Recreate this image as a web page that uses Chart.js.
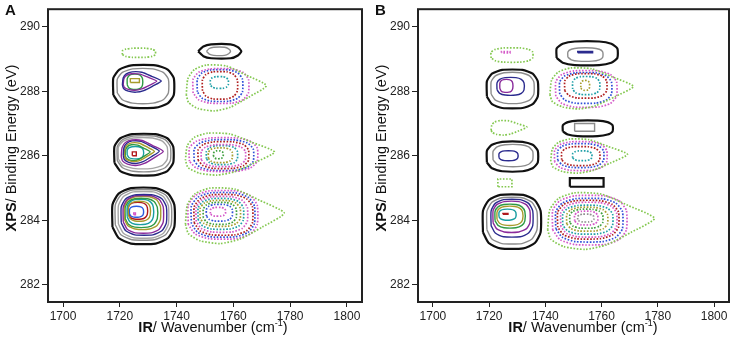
<!DOCTYPE html>
<html>
<head>
<meta charset="utf-8" />
<title>2D IR / XPS correlation</title>
<script src="https://cdn.jsdelivr.net/npm/chart.js"></script>
<style>
    body { margin: 0; padding: 0; background: #fff; }
    #wrap { position: relative; width: 737px; height: 339px; }
    canvas { position: absolute; top: 0; }
    #chartA { left: 0; }
    #chartB { left: 370px; }
</style>
</head>
<body>
<div id="wrap">
    <canvas id="chartA" width="368" height="339"></canvas>
    <canvas id="chartB" width="367" height="339"></canvas>
</div>
<script>
// axis ticks
var xTicks = [1700, 1720, 1740, 1760, 1780, 1800];
var yTicks = [282, 284, 286, 288, 290];

// contours: [level, xLeft, xRight, yBottom, yTop, outline]
// positive levels = solid lines, negative levels = dotted lines
var contoursA = [
    [-1, 1720.9, 1732.5, 289.05, 289.33, 'o'],
    [1, 1747.6, 1762.8, 289.02, 289.45, 'l'],
    [2, 1750.5, 1759.0, 289.11, 289.36, 'l'],
    // ~288.3 eV
    [1, 1717.7, 1739.0, 287.49, 288.80, 'o'],
    [2, 1719.1, 1737.1, 287.63, 288.69, 'o'],
    [4, 1720.9, 1734.6, 287.97, 288.60, 't'],
    [5, 1721.2, 1733.0, 288.03, 288.54, 't'],
    [7, 1722.6, 1728.0, 288.06, 288.52, 'o'],
    [6, 1723.7, 1726.9, 288.27, 288.39, 'r'],
    [-1, 1743.4, 1771.6, 287.39, 288.81, 't'],
    [-2, 1745.8, 1765.3, 287.63, 288.69, 'o'],
    [-3, 1747.3, 1763.2, 287.69, 288.66, 'o'],
    [-4, 1749.1, 1761.4, 287.76, 288.60, 'o'],
    [-6, 1751.9, 1758.2, 288.09, 288.45, 'o'],
    // ~286 eV
    [1, 1718.1, 1738.8, 285.40, 286.67, 'o'],
    [2, 1719.1, 1737.8, 285.52, 286.61, 'o'],
    [3, 1719.5, 1736.7, 285.61, 286.55, 'o'],
    [5, 1720.5, 1735.3, 285.70, 286.49, 't'],
    [4, 1721.2, 1733.9, 285.76, 286.46, 't'],
    [6, 1721.6, 1732.2, 285.82, 286.40, 't'],
    [7, 1721.9, 1730.7, 285.85, 286.34, 't'],
    [8, 1722.6, 1728.3, 285.91, 286.28, 'o'],
    [10, 1724.4, 1725.8, 286.00, 286.12, 'r'],
    [-1, 1743.1, 1774.5, 285.40, 286.70, 't'],
    [-2, 1744.5, 1768.4, 285.52, 286.55, 'o'],
    [-3, 1746.2, 1767.0, 285.55, 286.49, 'o'],
    [-4, 1747.6, 1765.3, 285.61, 286.43, 'o'],
    [-5, 1748.7, 1764.2, 285.67, 286.34, 'o'],
    [-6, 1750.5, 1761.4, 285.73, 286.31, 'o'],
    [-7, 1751.2, 1759.6, 285.79, 286.24, 'o'],
    [-8, 1753.0, 1756.4, 285.91, 286.15, 'o'],
    // ~284.2 eV
    [1, 1717.4, 1739.2, 283.28, 285.00, 'o'],
    [2, 1718.4, 1738.1, 283.40, 284.94, 'o'],
    [3, 1719.5, 1737.1, 283.46, 284.88, 'o'],
    [4, 1720.5, 1736.4, 283.55, 284.79, 'o'],
    [5, 1721.2, 1735.3, 283.61, 284.76, 'o'],
    [6, 1721.6, 1734.3, 283.73, 284.73, 'o'],
    [7, 1721.9, 1733.2, 283.79, 284.67, 'o'],
    [8, 1722.6, 1731.8, 283.88, 284.64, 'o'],
    [9, 1723.0, 1730.7, 283.98, 284.58, 'o'],
    [10, 1723.0, 1729.7, 284.04, 284.55, 'o'],
    [11, 1723.4, 1728.3, 284.10, 284.43, 'o'],
    [12, 1724.9, 1725.5, 284.17, 284.23, 'r'],
    [-1, 1743.1, 1777.9, 283.28, 285.00, 't'],
    [-2, 1744.1, 1768.4, 283.43, 284.91, 'o'],
    [-3, 1745.2, 1767.4, 283.49, 284.85, 'o'],
    [-4, 1746.2, 1766.7, 283.55, 284.79, 'o'],
    [-5, 1746.9, 1764.9, 283.64, 284.73, 'o'],
    [-6, 1747.6, 1763.5, 283.73, 284.67, 'o'],
    [-7, 1748.3, 1762.4, 283.82, 284.61, 'o'],
    [-8, 1749.4, 1761.0, 283.88, 284.55, 'o'],
    [-9, 1750.5, 1759.6, 283.98, 284.49, 'o'],
    [-10, 1751.9, 1757.2, 284.13, 284.40, 'o']
];

var contoursB = [
    [-1, 1720.7, 1735.5, 288.90, 289.34, 'o'],
    [-2, 1724.4, 1727.4, 289.19, 289.23, 'r'],
    [1, 1744.0, 1765.6, 288.81, 289.54, 'o'],
    [2, 1748.0, 1760.4, 288.93, 289.34, 'o'],
    [4, 1751.5, 1756.8, 289.19, 289.23, 'r'],
    // ~288.1 eV
    [1, 1719.2, 1737.3, 287.48, 288.66, 'o'],
    [2, 1720.7, 1735.9, 287.63, 288.57, 'o'],
    [4, 1722.8, 1732.4, 287.88, 288.42, 'o'],
    [5, 1723.8, 1728.4, 287.97, 288.36, 'o'],
    [-1, 1741.6, 1771.3, 287.45, 288.72, 't'],
    [-2, 1743.7, 1765.3, 287.51, 288.63, 'o'],
    [-3, 1745.1, 1763.5, 287.63, 288.57, 'o'],
    [-4, 1746.9, 1761.8, 287.79, 288.54, 'o'],
    [-6, 1749.7, 1759.3, 287.90, 288.45, 'o'],
    [-7, 1752.6, 1755.7, 288.03, 288.33, 'o'],
    // ~286.9 eV
    [-1, 1720.7, 1733.4, 286.64, 287.09, 't'],
    [1, 1746.2, 1763.9, 286.61, 287.09, 'o'],
    [2, 1750.4, 1757.5, 286.76, 287.00, 'r'],
    // ~286 eV
    [1, 1719.2, 1737.3, 285.52, 286.43, 'o'],
    [2, 1721.4, 1735.5, 285.67, 286.34, 'o'],
    [4, 1723.5, 1730.2, 285.85, 286.15, 'o'],
    [-1, 1741.9, 1769.2, 285.46, 286.52, 't'],
    [-2, 1743.3, 1761.8, 285.55, 286.43, 'o'],
    [-3, 1744.4, 1760.7, 285.64, 286.37, 'o'],
    [-4, 1745.8, 1759.3, 285.70, 286.28, 'o'],
    [-6, 1749.7, 1756.5, 285.85, 286.15, 'o'],
    // ~285.2 eV
    [-1, 1723.1, 1728.1, 285.04, 285.28, 'r'],
    [1, 1748.7, 1760.7, 285.04, 285.31, 'r'],
    // ~284.1 eV
    [1, 1717.8, 1738.3, 283.13, 284.79, 'o'],
    [2, 1719.2, 1737.0, 283.28, 284.70, 'o'],
    [4, 1720.7, 1735.5, 283.49, 284.64, 'o'],
    [5, 1721.4, 1734.5, 283.64, 284.58, 'o'],
    [7, 1722.1, 1732.7, 283.77, 284.49, 'o'],
    [6, 1722.8, 1731.9, 283.85, 284.43, 'o'],
    [8, 1723.5, 1729.5, 284.01, 284.34, 'o'],
    [10, 1724.9, 1726.7, 284.19, 284.21, 'r'],
    [-1, 1740.8, 1778.8, 283.10, 284.85, 't'],
    [-2, 1742.6, 1768.8, 283.25, 284.76, 'o'],
    [-3, 1743.7, 1767.4, 283.34, 284.67, 'o'],
    [-4, 1744.4, 1766.0, 283.43, 284.61, 'o'],
    [-5, 1745.5, 1765.3, 283.49, 284.55, 'o'],
    [-6, 1746.2, 1763.9, 283.58, 284.46, 'o'],
    [-7, 1747.6, 1762.1, 283.67, 284.40, 'o'],
    [-8, 1748.7, 1760.4, 283.76, 284.34, 'o'],
    [-10, 1750.4, 1758.6, 283.86, 284.28, 'o'],
    [-11, 1751.5, 1757.2, 283.95, 284.19, 'o']
];

// outline templates, unit box (u = across, v = up)
var outlines = {
    o: [[0, .3], [0, .7], [.1, .9], [.3, 1], [.7, 1], [.9, .9], [1, .7], [1, .3], [.9, .1], [.7, 0], [.3, 0], [.1, .1]],
    t: [[0, .35], [.02, .7], [.1, .9], [.25, 1], [.5, .98], [.75, .78], [1, .55], [.78, .3], [.55, .08], [.35, 0], [.15, .05], [.03, .18]],
    l: [[0, .5], [.12, .85], [.3, 1], [.75, 1], [.92, .8], [1, .5], [.92, .2], [.75, 0], [.3, 0], [.12, .15]],
    r: [[0, 0], [0, 1], [1, 1], [1, 0]]
};

var posColors = { 1: '#111111', 2: '#8c8c8c', 3: '#a6a6a6', 4: '#2b2b8e', 5: '#8a2b9b', 6: '#a89b2c',
                  7: '#2e9a44', 8: '#1a9ea2', 9: '#a89b2c', 10: '#b0181c', 11: '#2b5be0', 12: '#d452c8' };
var negColors = { 1: '#84c850', 2: '#d45ac8', 3: '#3050d8', 4: '#b02020', 5: '#d45ac8', 6: '#20a0a8',
                  7: '#a8a030', 8: '#40a040', 9: '#3050d8', 10: '#d45ac8', 11: '#909090' };

var fontFamily = '"Liberation Sans", Arial, sans-serif';

function contourDatasets(list) {
    return list.map(function (c) {
        var lvl = c[0], x0 = c[1], x1 = c[2], y0 = c[3], y1 = c[4], shape = c[5];
        var pts = outlines[shape].map(function (p) {
            return { x: x0 + p[0] * (x1 - x0), y: y0 + p[1] * (y1 - y0) };
        });
        pts.push(pts[0]);
        var neg = lvl < 0;
        return {
            data: pts,
            showLine: true,
            pointRadius: 0,
            fill: false,
            tension: shape === 'r' ? 0 : 0.2,
            borderColor: neg ? negColors[-lvl] : posColors[lvl],
            borderWidth: neg ? 1.7 : (lvl === 1 ? 2.2 : 1.4),
            borderDash: neg ? [1.6, 1.6] : []
        };
    });
}

// draws bold + normal text pieces centred at x
function drawPieces(ctx, pieces, x, y, size) {
    var total = 0;
    pieces.forEach(function (p) {
        ctx.font = (p.bold ? 'bold ' : '') + (p.sup ? 9 : size) + 'px ' + fontFamily;
        p.w = ctx.measureText(p.text).width;
        total += p.w;
    });
    var cx = x - total / 2;
    pieces.forEach(function (p) {
        ctx.font = (p.bold ? 'bold ' : '') + (p.sup ? 9 : size) + 'px ' + fontFamily;
        ctx.fillText(p.text, cx, p.sup ? y - 6 : y);
        cx += p.w;
    });
}

var panelDecor = {
    id: 'panelDecor',
    afterDatasetsDraw: function (chart, args, opts) {
        var ctx = chart.ctx, a = chart.chartArea;
        ctx.save();
        ctx.strokeStyle = '#222';
        ctx.lineWidth = 2;
        ctx.strokeRect(a.left, a.top, a.right - a.left, a.bottom - a.top);

        ctx.fillStyle = '#111';
        ctx.textAlign = 'left';
        ctx.textBaseline = 'alphabetic';
        ctx.font = 'bold 15px ' + fontFamily;
        ctx.fillText(opts.letter, 5, 15);

        drawPieces(ctx, [
            { text: 'IR', bold: true },
            { text: '/ Wavenumber (cm' },
            { text: '-1', sup: true },
            { text: ')' }
        ], opts.titleX, 332, 14.5);

        ctx.translate(16, 148);
        ctx.rotate(-Math.PI / 2);
        drawPieces(ctx, [
            { text: 'XPS', bold: true },
            { text: '/ Binding Energy (eV)' }
        ], 0, 0, 14.5);
        ctx.restore();
    }
};

function makePanel(id, contours, letter, padRight) {
    return new Chart(document.getElementById(id), {
        type: 'scatter',
        data: { datasets: contourDatasets(contours) },
        plugins: [panelDecor],
        options: {
            responsive: false,
            animation: false,
            layout: { padding: { top: 2, right: padRight, left: 0, bottom: 0 } },
            plugins: {
                legend: { display: false },
                tooltip: { enabled: false },
                panelDecor: { letter: letter, titleX: 213 }
            },
            scales: {
                x: {
                    type: 'linear',
                    min: 1694.7,
                    max: 1805.3,
                    afterBuildTicks: function (s) { s.ticks = xTicks.map(function (v) { return { value: v }; }); },
                    afterFit: function (s) { s.height = 37; },
                    grid: { drawOnChartArea: false, drawTicks: true, tickLength: 5, color: '#222', lineWidth: 1 },
                    border: { display: false },
                    ticks: {
                        autoSkip: false, maxRotation: 0, padding: 2, color: '#222',
                        font: { size: 12, family: fontFamily },
                        callback: function (v) { return String(v); }
                    }
                },
                y: {
                    type: 'linear',
                    min: 281.47,
                    max: 290.54,
                    afterBuildTicks: function (s) { s.ticks = yTicks.map(function (v) { return { value: v }; }); },
                    afterFit: function (s) { s.width = 48; },
                    grid: { drawOnChartArea: false, drawTicks: true, tickLength: 6, color: '#222', lineWidth: 1 },
                    border: { display: false },
                    ticks: {
                        autoSkip: false, padding: 2, color: '#222',
                        font: { size: 12, family: fontFamily },
                        callback: function (v) { return String(v); }
                    }
                }
            }
        }
    });
}

makePanel('chartA', contoursA, 'A', 6);
makePanel('chartB', contoursB, 'B', 8);
</script>
</body>
</html>
